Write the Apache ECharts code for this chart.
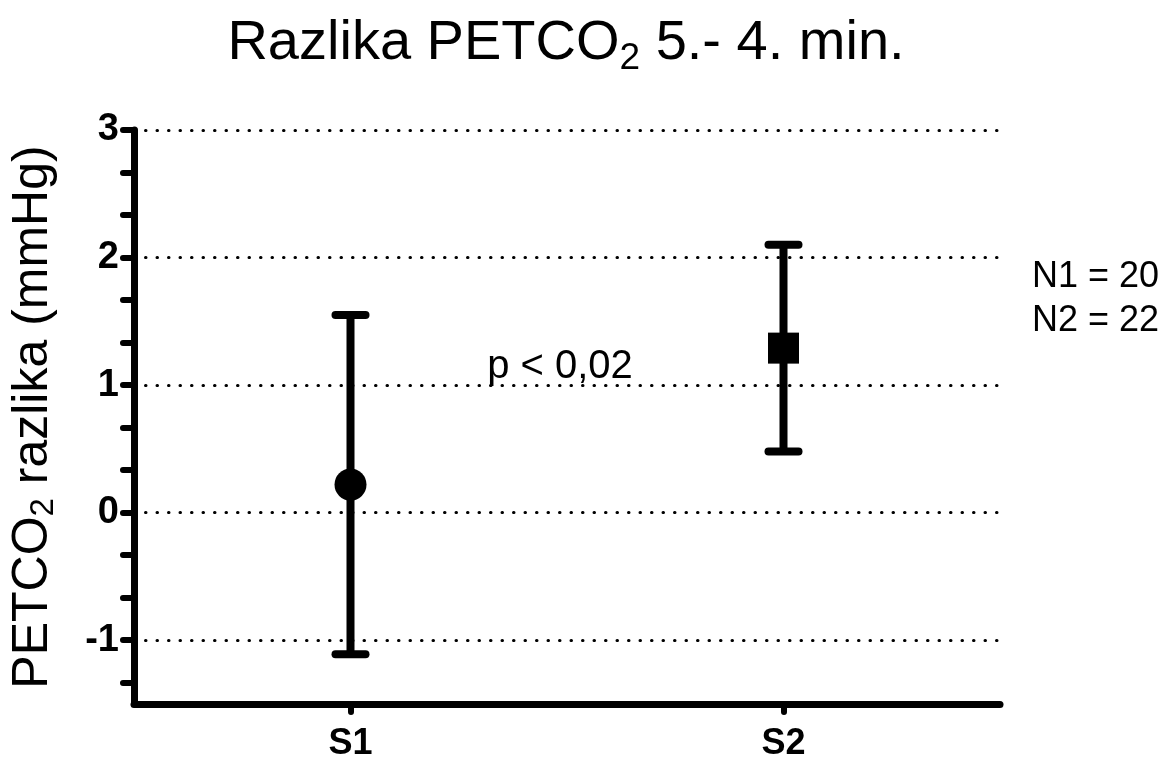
<!DOCTYPE html>
<html>
<head>
<meta charset="utf-8">
<script src="https://cdn.jsdelivr.net/npm/echarts@6/dist/echarts.min.js"></script>
<style>
  html, body { margin: 0; padding: 0; background: #fff; }
  #chart { width: 1162px; height: 762px; }
</style>
</head>
<body>
<div id="chart"></div>
<script>
// Groups and their summary values (mean with lower/upper error limits)
const groups = ['S1', 'S2'];
const means = [0.22, 1.29];
const lowers = [-1.11, 0.48];
const uppers = [1.55, 2.10];
const markerShapes = ['circle', 'rect'];

// Y axis labels, ticks and dotted reference lines
const yLabelValues = [-1, 0, 1, 2, 3];
const yTickValues = [-4/3, -1, -2/3, -1/3, 0, 1/3, 2/3, 1, 4/3, 5/3, 2, 7/3, 8/3, 3];
const gridLineValues = [-1, 0, 1, 2, 3];

const annotation = 'p < 0,02';
const sampleSizes = ['N1 = 20', 'N2 = 22'];

const FONT = '"Liberation Sans", Arial, Helvetica, sans-serif';

const chart = echarts.init(document.getElementById('chart'), null, { renderer: 'canvas' });

const errorData = groups.map((g, i) => [i, means[i], lowers[i], uppers[i]]);

chart.setOption({
  animation: false,
  backgroundColor: '#fff',
  grid: { left: 134, right: 162, top: 130, bottom: 50, containLabel: false },
  xAxis: {
    type: 'category',
    data: groups,
    boundaryGap: true,
    axisLine: { show: true, onZero: false, lineStyle: { color: '#000', width: 7, cap: 'round' } },
    axisTick: { show: true, alignWithLabel: true, length: 8, lineStyle: { color: '#000', width: 6, cap: 'round' } },
    axisLabel: { color: '#000', fontFamily: FONT, fontWeight: 'bold', fontSize: 36, margin: 22 },
    splitLine: { show: false }
  },
  yAxis: {
    type: 'value',
    min: -1.5,
    max: 3,
    axisLine: { show: true, onZero: false, lineStyle: { color: '#000', width: 7, cap: 'round' } },
    axisTick: { show: true, length: 11, customValues: yTickValues, lineStyle: { color: '#000', width: 6, cap: 'round' } },
    axisLabel: {
      customValues: yLabelValues,
      color: '#000', fontFamily: FONT, fontWeight: 'bold', fontSize: 38, margin: 15
    },
    splitLine: { show: false },
    name: '{m|PETCO}{s|2}{m| razlika (mmHg)}',
    nameLocation: 'middle',
    nameRotate: 90,
    nameGap: 74,
    nameTextStyle: {
      rich: {
        m: { fontFamily: FONT, fontSize: 50, color: '#000' },
        s: { fontFamily: FONT, fontSize: 33, color: '#000', verticalAlign: 'bottom', padding: [20, 0, 0, 0] }
      }
    }
  },
  series: [
    {
      type: 'custom',
      z: 3,
      data: errorData,
      renderItem: function (params, api) {
        const x = api.value(0);
        const lo = api.coord([x, api.value(2)]);
        const hi = api.coord([x, api.value(3)]);
        const half = 15;
        const style = { stroke: '#000', lineWidth: 8, lineCap: 'round' };
        return {
          type: 'group',
          children: [
            { type: 'line', shape: { x1: lo[0], y1: lo[1], x2: hi[0], y2: hi[1] }, style: { stroke: '#000', lineWidth: 8, lineCap: 'butt' } },
            { type: 'line', shape: { x1: hi[0] - half, y1: hi[1], x2: hi[0] + half, y2: hi[1] }, style: style },
            { type: 'line', shape: { x1: lo[0] - half, y1: lo[1], x2: lo[0] + half, y2: lo[1] }, style: style }
          ]
        };
      },
      markLine: {
        silent: true,
        symbol: ['none', 'none'],
        label: { show: false },
        lineStyle: { color: '#000', width: 3, type: [0.5, 11], cap: 'round' },
        data: gridLineValues.map(v => ({ yAxis: v }))
      }
    },
    {
      type: 'scatter',
      z: 4,
      data: groups.map((g, i) => ({
        value: [i, means[i]],
        symbol: markerShapes[i],
        symbolSize: i === 0 ? 32 : 31
      })),
      itemStyle: { color: '#000', opacity: 1 }
    }
  ],
  graphic: [
    {
      type: 'text',
      x: 566, y: 44,
      style: {
        text: '{m|Razlika PETCO}{s|2}{m| 5.- 4. min.}',
        align: 'center', verticalAlign: 'middle',
        rich: {
          m: { fontFamily: FONT, fontSize: 56, fill: '#000' },
          s: { fontFamily: FONT, fontSize: 37, fill: '#000', padding: [30, 0, 0, 0] }
        }
      }
    },
    {
      type: 'text',
      x: 560, y: 367,
      style: { text: annotation, fontFamily: FONT, fontSize: 40, fill: '#000', align: 'center', verticalAlign: 'middle' }
    },
    {
      type: 'text',
      x: 1032, y: 277,
      style: { text: sampleSizes[0], fontFamily: FONT, fontSize: 36, fill: '#000', align: 'left', verticalAlign: 'middle' }
    },
    {
      type: 'text',
      x: 1032, y: 321,
      style: { text: sampleSizes[1], fontFamily: FONT, fontSize: 36, fill: '#000', align: 'left', verticalAlign: 'middle' }
    }
  ]
});
</script>
</body>
</html>
